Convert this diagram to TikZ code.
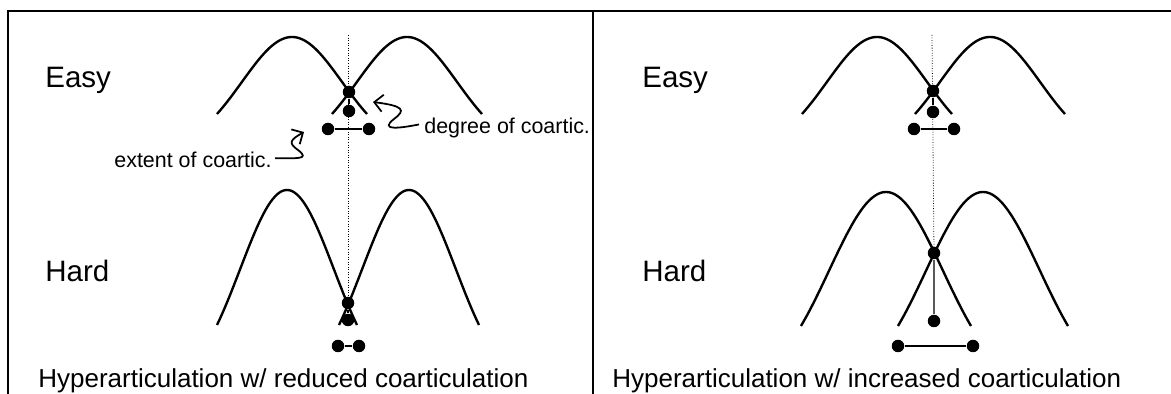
\documentclass[tikz,border=0pt]{standalone}
\usepackage{fontspec}
\setmainfont{Liberation Sans}
\usetikzlibrary{arrows.meta}

% one bump: centre x, peak y, half width, height
\newcommand{\bump}[4]{%
  \draw[curve] plot[domain=-#3:#3,samples=61,smooth]
    ({#1+\x},{#2+#4*(1-exp(-\x*\x/(2*(2*#3/3)^2)))/0.6753});}

\begin{document}
\begin{tikzpicture}[x=0.02cm,y=-0.02cm,>={Straight Barb[length=1.7mm,width=3.4mm]},
  curve/.style={line width=1.35pt},
  frame/.style={line width=1.5pt},
  guide/.style={line width=0.45pt,densely dotted},
  link/.style={line width=1.3pt},
  dot/.style={circle,fill=black,inner sep=0pt,minimum size=0.25cm},
  big/.style={font=\fontsize{16.8}{20}\selectfont},
  caption/.style={font=\fontsize{14.8}{18}\selectfont},
  small/.style={font=\fontsize{12.2}{14}\selectfont}]
  \useasboundingbox (0,0) rectangle (1171,394);
  \draw[frame] (8,394) -- (8,11) -- (1171,11);
  \draw[frame] (593,11) -- (593,394);

  % left panel: reduced coarticulation
  \bump{292}{37}{75}{77}
  \bump{407}{37}{75}{77}
  \bump{287}{190}{70}{135}
  \bump{409}{190}{70}{135}
  \coordinate (lTop) at (348,35);
  \node[dot] (lEc) at (349,92) {};
  \node[dot] (lEd) at (349,111) {};
  \node[dot] (lEa) at (328,129) {};
  \node[dot] (lEb) at (369,129) {};
  \node[dot] (lHc) at (348,303) {};
  \node[dot] (lHd) at (348,320) {};
  \node[dot] (lHa) at (338,346) {};
  \node[dot] (lHb) at (359,346) {};
  \draw[guide] (lTop) -- (lHc.center);
  \draw[link] (lEc) -- (lEd);
  \draw[link] (lEa) -- (lEb);
  \draw[link] (lHc) -- (lHd);
  \draw[link] (lHa) -- (lHb);

  % right panel: increased coarticulation
  \bump{877}{37}{75}{77}
  \bump{990}{37}{75}{77}
  \bump{886}{192}{85}{134}
  \bump{983}{192}{85}{134}
  \coordinate (rTop) at (932,35);
  \node[dot] (rEc) at (933,91) {};
  \node[dot] (rEd) at (933,112) {};
  \node[dot] (rEa) at (914,129) {};
  \node[dot] (rEb) at (954,129) {};
  \node[dot] (rHc) at (934,253) {};
  \node[dot] (rHd) at (934,321) {};
  \node[dot] (rHa) at (898,346) {};
  \node[dot] (rHb) at (973,346) {};
  \draw[guide] (rTop) -- (rHc.center);
  \draw[link] (rEc) -- (rEd);
  \draw[link] (rEa) -- (rEb);
  \draw[link,gray!70!black] (rHc) -- (rHd);
  \draw[link] (rHa) -- (rHb);

  % labels
  \node[big,anchor=base west,inner sep=0pt] (lEasy) at (45,88) {Easy};
  \node[big,anchor=base west,inner sep=0pt] (lHard) at (45,282) {Hard};
  \node[big,anchor=base west,inner sep=0pt] (rEasy) at (642,88) {Easy};
  \node[big,anchor=base west,inner sep=0pt] (rHard) at (642,282) {Hard};
  \node[caption,anchor=base west,inner sep=0pt] (lCap) at (38,388)
    {Hyperarticulation w/ reduced coarticulation};
  \node[caption,anchor=base west,inner sep=0pt] (rCap) at (612,388)
    {Hyperarticulation w/ increased coarticulation};
  \node[small,anchor=base east,inner sep=0pt] (extLbl) at (272,168) {extent of coartic.};
  \node[small,anchor=base west,inner sep=0pt] (degLbl) at (424,134) {degree of coartic.};

  % squiggly pointers
  \draw[line width=1pt,->] ([xshift=0.06cm,yshift=0.04cm]extLbl.east)
    .. controls (296,158) and (311,160) .. (298,150)
    .. controls (288,143) and (290,140) .. (304,132);
  \draw[line width=1pt,->] ([xshift=-0.1cm,yshift=0.08cm]degLbl.west)
    .. controls (396,129) and (380,130) .. (394,119)
    .. controls (406,110) and (404,106) .. (373,102);
\end{tikzpicture}
\end{document}
